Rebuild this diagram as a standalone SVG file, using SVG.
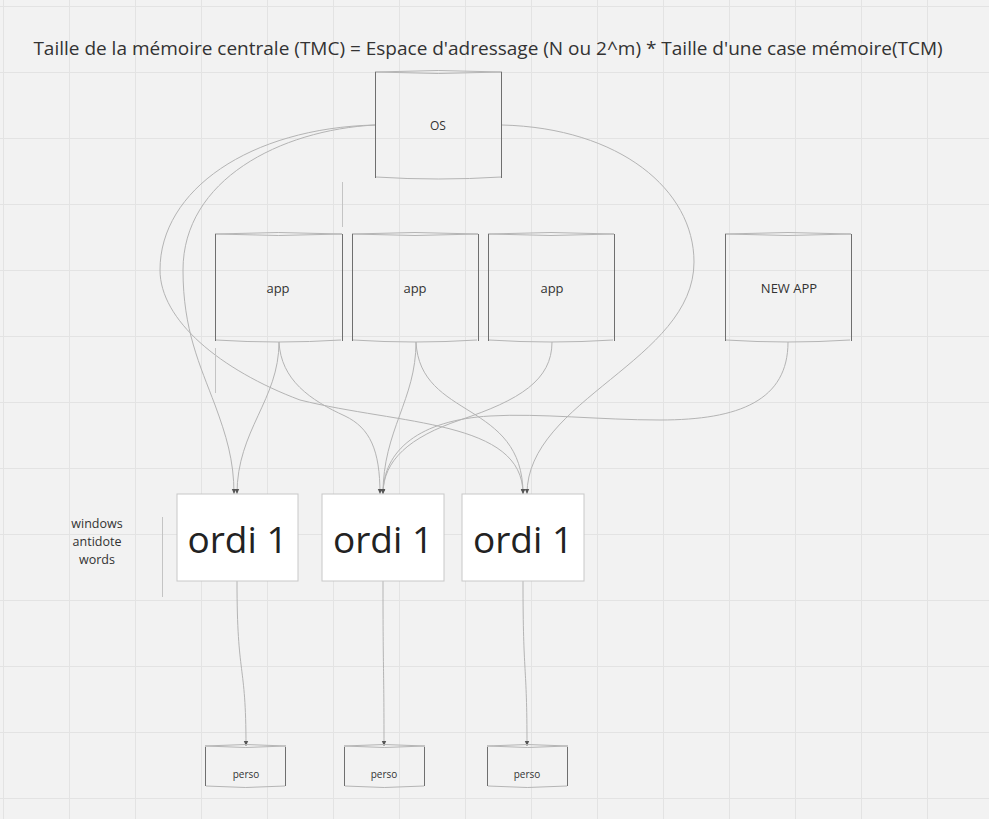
<svg xmlns="http://www.w3.org/2000/svg" width="989" height="819" viewBox="0 0 989 819">
<defs>
<pattern id="grid" x="3" y="6" width="66" height="66" patternUnits="userSpaceOnUse">
<path d="M0.5,0 V66 M0,0.5 H66" fill="none" stroke="#e3e3e3" stroke-width="1"/>
</pattern>
<marker id="arr" markerWidth="6" markerHeight="6" refX="5" refY="3" orient="auto" markerUnits="userSpaceOnUse">
<path d="M0,0.8 L5,3 L0,5.2 z" fill="#555"/>
</marker>
<style>
.t{font-family:"Open Sans","Liberation Sans",sans-serif;fill:#333;text-anchor:middle}
.side{stroke:#6f6f6f;stroke-width:1;fill:none}
.cap{stroke:#b5b5b5;stroke-width:1;fill:none}
.c{fill:none;stroke:#b4b4b4;stroke-width:1;marker-end:url(#arr)}
.box{fill:#ffffff;stroke:#c8c8c8;stroke-width:1}
.thin{stroke:#c4c4c4;stroke-width:1;fill:none}
</style>
</defs>
<rect width="989" height="819" fill="#f2f2f2"/>
<rect width="989" height="819" fill="url(#grid)"/>

<text class="t" x="488" y="55" font-size="19">Taille de la mémoire centrale (TMC) = Espace d'adressage (N ou 2^m) * Taille d'une case mémoire(TCM)</text>

<g id="connectors">
<path class="c" d="M375,125 C280,130 183,180 183,270 C183,330 200,365 215,405 C226,435 234,460 234,494"/>
<path class="c" d="M375,125 C250,128 160,190 160,270 C160,320 220,370 300,400 C400,425 523,420 523,494"/>
<path class="c" d="M502,125 C620,128 694,190 694,262 C694,360 527,400 527,494"/>
<path class="c" d="M279,342 C279,400 237,430 237,494"/>
<path class="c" d="M279,342 C281,380 310,400 345,416 C370,428 380,450 380,494"/>
<path class="c" d="M416,342 C416,400 383,430 383,494"/>
<path class="c" d="M416,342 C420,420 523,400 523,494"/>
<path class="c" d="M552,342 C552,380 520,400 460,420 C410,437 383,460 383,494"/>
<path class="c" d="M788,342 C788,400 740,420 660,420 C600,420 540,413 490,416 C420,420 383,450 383,494"/>
<path class="c" d="M237,581 C237,680 246,660 246,746"/>
<path class="c" d="M383,581 C383,680 384,660 384,746"/>
<path class="c" d="M523,581 C523,680 527,660 527,746"/>
</g>

<line class="thin" x1="342.5" y1="182" x2="342.5" y2="227" stroke="#aaaaaa"/>
<line class="thin" x1="215.5" y1="348" x2="215.5" y2="393"/>
<line class="thin" x1="162.5" y1="517" x2="162.5" y2="597"/>

<g id="os">
<path class="cap" d="M375,72 Q438,69 502,72 Q438,75 375,72"/>
<path class="cap" d="M376,177 Q438,181 501,177"/>
<path class="side" d="M375.5,72 V178 M501.5,72 V178"/>
<text class="t" x="438" y="130" font-size="12">OS</text>
</g>

<g id="app1">
<path class="cap" d="M215,234 Q278,231 342,234 Q278,237 215,234"/>
<path class="cap" d="M216,340 Q278,344 341,340"/>
<path class="side" d="M215.5,234 V341 M342.5,234 V341"/>
<text class="t" x="278" y="293" font-size="13">app</text>
</g>
<g id="app2">
<path class="cap" d="M352,234 Q415,231 478,234 Q415,237 352,234"/>
<path class="cap" d="M353,340 Q415,344 477,340"/>
<path class="side" d="M352.5,234 V341 M478.5,234 V341"/>
<text class="t" x="415" y="293" font-size="13">app</text>
</g>
<g id="app3">
<path class="cap" d="M488,234 Q551,231 614,234 Q551,237 488,234"/>
<path class="cap" d="M489,340 Q551,344 613,340"/>
<path class="side" d="M488.5,234 V341 M614.5,234 V341"/>
<text class="t" x="552" y="293" font-size="13">app</text>
</g>
<g id="newapp">
<path class="cap" d="M725,234 Q788,231 851,234 Q788,237 725,234"/>
<path class="cap" d="M726,340 Q788,344 850,340"/>
<path class="side" d="M725.5,234 V341 M851.5,234 V341"/>
<text class="t" x="789" y="293" font-size="13">NEW APP</text>
</g>

<g id="ordi1">
<rect class="box" x="177" y="494" width="121" height="87"/>
<text class="t" x="237.5" y="553" font-size="37" style="fill:#222">ordi 1</text>
</g>
<g id="ordi2">
<rect class="box" x="322" y="494" width="122" height="87"/>
<text class="t" x="383" y="553" font-size="37" style="fill:#222">ordi 1</text>
</g>
<g id="ordi3">
<rect class="box" x="462" y="494" width="122" height="87"/>
<text class="t" x="523" y="553" font-size="37" style="fill:#222">ordi 1</text>
</g>

<g id="perso1">
<path class="cap" d="M205,746 Q246,743 286,746 Q246,749 205,746"/>
<path class="cap" d="M206,786 Q246,789 285,786"/>
<path class="side" d="M205.5,747 V786 M285.5,747 V786"/>
<text class="t" x="246" y="778" font-size="10">perso</text>
</g>
<g id="perso2">
<path class="cap" d="M344,746 Q384,743 425,746 Q384,749 344,746"/>
<path class="cap" d="M345,786 Q384,789 424,786"/>
<path class="side" d="M344.5,747 V786 M424.5,747 V786"/>
<text class="t" x="384" y="778" font-size="10">perso</text>
</g>
<g id="perso3">
<path class="cap" d="M487,746 Q527,743 568,746 Q527,749 487,746"/>
<path class="cap" d="M488,786 Q527,789 567,786"/>
<path class="side" d="M487.5,747 V786 M567.5,747 V786"/>
<text class="t" x="527" y="778" font-size="10">perso</text>
</g>

<g id="label">
<text class="t" font-size="12.5"><tspan x="97" y="528">windows</tspan><tspan x="97" y="546">antidote</tspan><tspan x="97" y="564">words</tspan></text>
</g>
</svg>
